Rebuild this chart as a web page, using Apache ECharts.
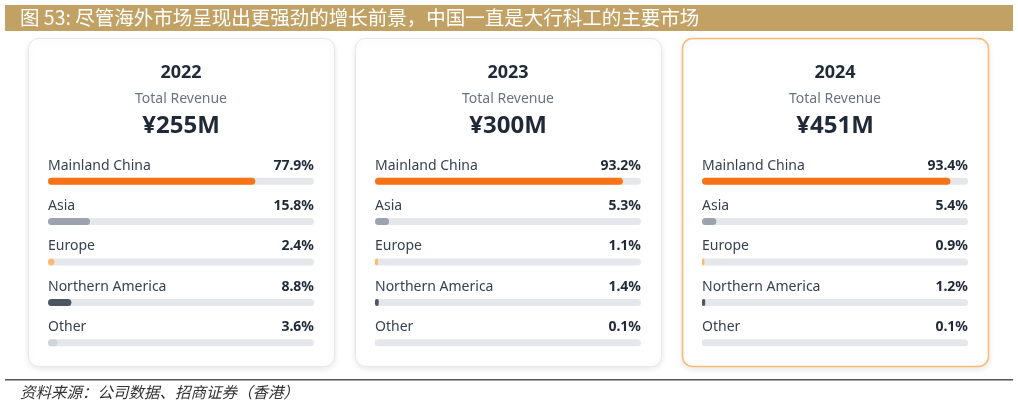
<!DOCTYPE html>
<html><head><meta charset="utf-8">
<script src="https://cdn.jsdelivr.net/npm/echarts@6/dist/echarts.min.js"></script>
<style>html,body{margin:0;padding:0;background:#fff}#c{width:1018px;height:405px}</style>
</head><body><div id="c"></div>
<script>
const titleText = '图 53: 尽管海外市场呈现出更强劲的增长前景，中国一直是大行科工的主要市场';
const sourceText = '资料来源：公司数据、招商证券（香港）';
const years = ['2022', '2023', '2024'];
const revenues = ['¥255M', '¥300M', '¥451M'];
const regions = ['Mainland China', 'Asia', 'Europe', 'Northern America', 'Other'];
const share2022 = [77.9, 15.8, 2.4, 8.8, 3.6];
const share2023 = [93.2, 5.3, 1.1, 1.4, 0.1];
const share2024 = [93.4, 5.4, 0.9, 1.2, 0.1];
const shares = [share2022, share2023, share2024];
const regionColors = ['#F97316', '#9CA3AF', '#FDBA74', '#4B5563', '#D1D5DB'];

const cardLeft = [28, 355, 682];
const cardW = 306, cardTop = 38, cardH = 328;
const FONT = '"Noto Sans", "Open Sans", sans-serif';

const graphic = [
  {type:'rect', shape:{x:5,y:5,width:1008,height:26}, style:{fill:'#C1A264'}, silent:true},
  {type:'text', x:20, y:18, style:{text:titleText, fill:'#fff', font:'19.5px "Noto Sans CJK SC", sans-serif', verticalAlign:'middle'}},
  {type:'rect', shape:{x:5,y:379,width:1008,height:1.5}, style:{fill:'#555'}},
  {type:'text', x:20, y:392, style:{text:sourceText, fill:'#333', font:'italic 15.5px "Noto Sans CJK SC", sans-serif', verticalAlign:'middle'}}
];
const grids = [], xAxes = [], yAxes = [], series = [];
years.forEach((yr, i) => {
  const cx = cardLeft[i] + cardW / 2;
  graphic.push({type:'rect', z:-1, shape:{x:cardLeft[i]+0.5, y:cardTop+0.5, width:cardW, height:cardH, r:10},
    style:{fill:'#fff', stroke: i===2 ? '#FDBA74' : '#E5E7EB', lineWidth: i===2 ? 1.5 : 1,
      shadowBlur:6, shadowColor:'rgba(0,0,0,0.10)', shadowOffsetY:2}});
  graphic.push({type:'text', x:cx, y:72.5, style:{text:yr, fill:'#1F2937', font:'bold 18px '+FONT, align:'center', verticalAlign:'middle'}});
  graphic.push({type:'text', x:cx, y:99.5, style:{text:'Total Revenue', fill:'#6B7280', font:'14px '+FONT, align:'center', verticalAlign:'middle'}});
  graphic.push({type:'text', x:cx, y:126, style:{text:revenues[i], fill:'#1F2937', font:'bold 24px '+FONT, align:'center', verticalAlign:'middle'}});
  grids.push({left:cardLeft[i]+20, top:161, width:266, height:202});
  xAxes.push({type:'value', gridIndex:i, min:0, max:100, show:false});
  yAxes.push({type:'category', gridIndex:i, data:regions, inverse:true, show:false});
  series.push({type:'bar', xAxisIndex:i, yAxisIndex:i, barWidth:7, silent:true,
    data: shares[i].map((v, k) => ({value:v, itemStyle:{color:regionColors[k], borderRadius:4}})),
    showBackground:true, backgroundStyle:{color:'#E5E7EB', borderRadius:4}, z:3});
  series.push({type:'bar', xAxisIndex:i, yAxisIndex:i, barWidth:7, barGap:'-100%', silent:true,
    data: regions.map(() => 100), itemStyle:{color:'rgba(0,0,0,0)'}, z:2,
    label:{show:true, position:[0,-12], align:'left', verticalAlign:'middle', formatter:'{b}',
      color:'#374151', fontSize:14, fontFamily:FONT}});
  series.push({type:'bar', xAxisIndex:i, yAxisIndex:i, barWidth:7, barGap:'-100%', silent:true,
    data: regions.map(() => 100), itemStyle:{color:'rgba(0,0,0,0)'}, z:2,
    label:{show:true, position:['100%',-12], align:'right', verticalAlign:'middle',
      formatter: p => shares[i][p.dataIndex].toFixed(1) + '%',
      color:'#1F2937', fontSize:14, fontWeight:'bold', fontFamily:FONT}});
});
const chart = echarts.init(document.getElementById('c'), null, {renderer:'canvas'});
chart.setOption({animation:false, grid:grids, xAxis:xAxes, yAxis:yAxes, series:series, graphic:graphic});
</script></body></html>
